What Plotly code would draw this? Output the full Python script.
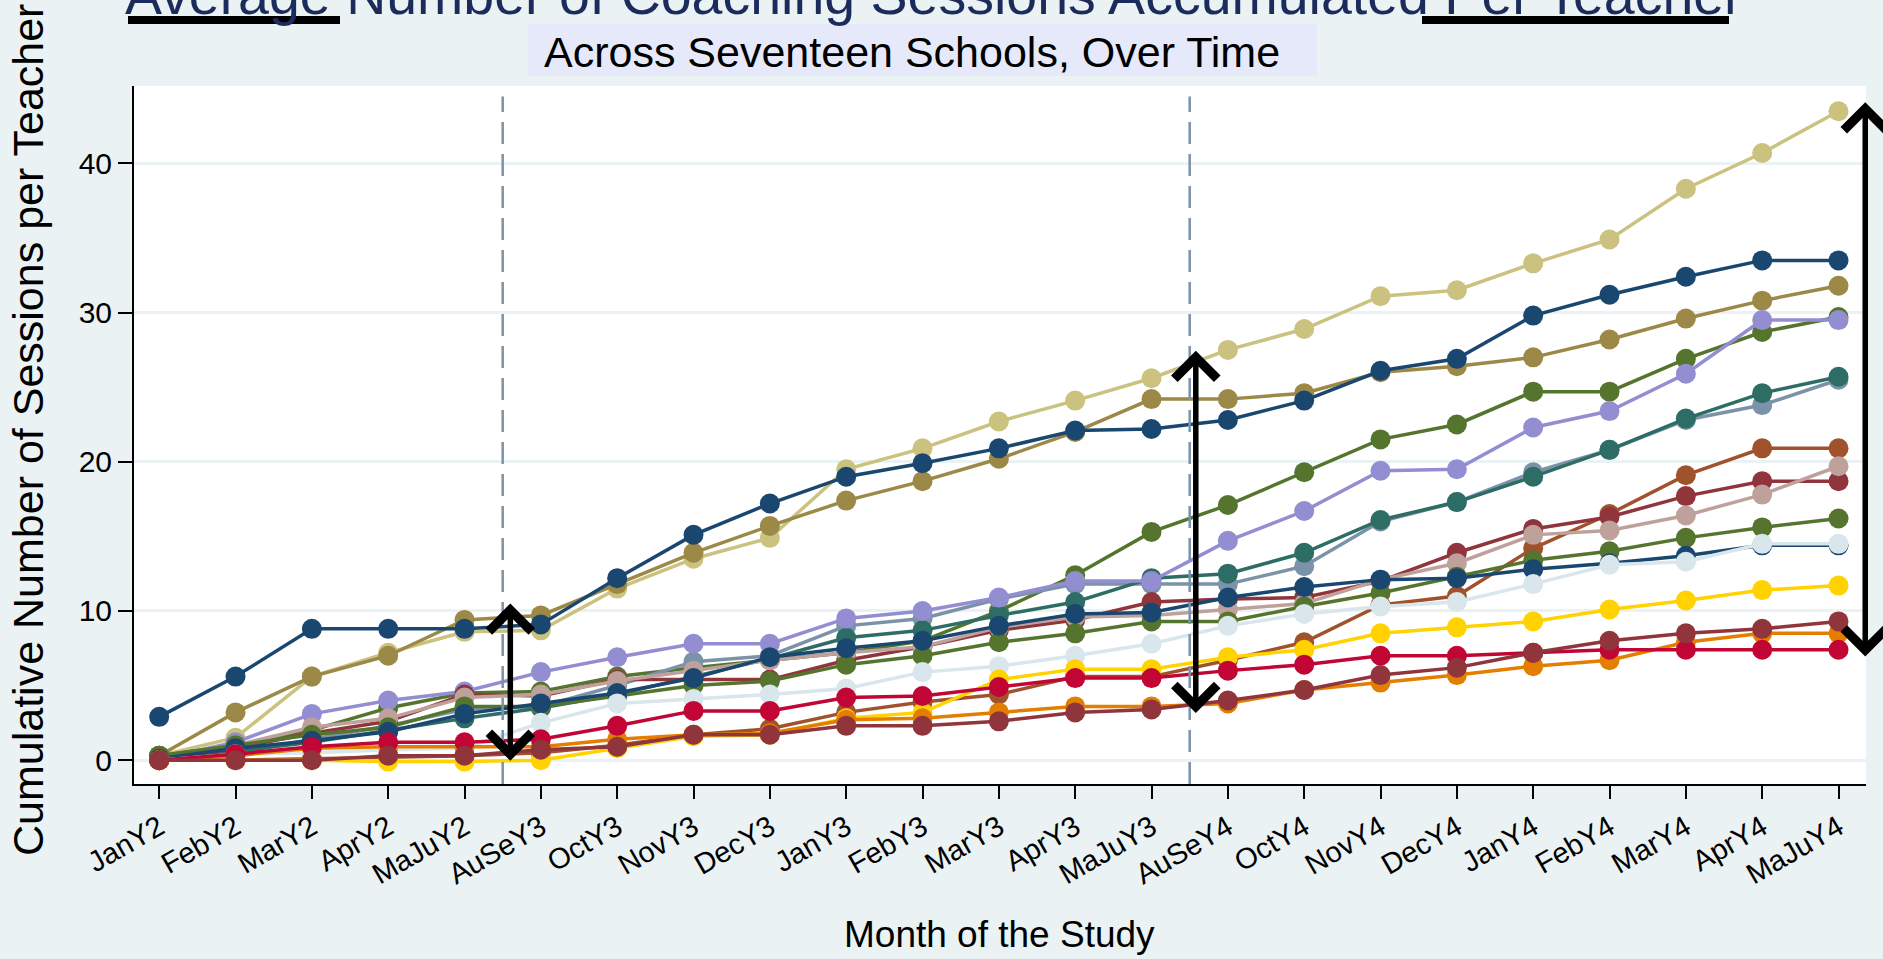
import plotly.graph_objects as go

months = ["JanY2", "FebY2", "MarY2", "AprY2", "MaJuY2", "AuSeY3", "OctY3", "NovY3",
          "DecY3", "JanY3", "FebY3", "MarY3", "AprY3", "MaJuY3", "AuSeY4", "OctY4",
          "NovY4", "DecY4", "JanY4", "FebY4", "MarY4", "AprY4", "MaJuY4"]

school_khaki = [0.3, 1.5, 5.6, 7.2, 8.6, 8.7, 11.5, 13.5, 14.9, 19.5, 20.9, 22.7, 24.1, 25.6,
                27.5, 28.9, 31.1, 31.5, 33.3, 34.9, 38.3, 40.7, 43.5]
school_brown = [0.3, 3.2, 5.6, 7.0, 9.4, 9.7, 11.8, 13.9, 15.7, 17.4, 18.7, 20.2, 22.0, 24.2,
                24.2, 24.6, 26.0, 26.4, 27.0, 28.2, 29.6, 30.8, 31.8]
school_navy_a = [2.9, 5.6, 8.8, 8.8, 8.8, 9.1, 12.2, 15.1, 17.2, 19.0, 19.9, 20.9, 22.1, 22.2,
                 22.8, 24.1, 26.1, 26.9, 29.8, 31.2, 32.4, 33.5, 33.5]
school_green_a = [0.3, 1.0, 2.0, 3.5, 4.5, 4.6, 5.6, 6.2, 6.7, 7.2, 8.0, 10.0, 12.4, 15.3,
                  17.1, 19.3, 21.5, 22.5, 24.7, 24.7, 26.9, 28.7, 29.7]
school_emidblue = [0.0, 0.5, 1.4, 2.3, 3.4, 3.6, 5.0, 6.6, 7.0, 9.0, 9.5, 10.8, 11.8, 11.8,
                   11.8, 13.0, 16.0, 17.3, 19.3, 20.8, 22.8, 23.8, 25.5]
school_emerald = [0.0, 0.6, 1.2, 2.0, 2.8, 3.5, 4.4, 5.6, 6.8, 8.2, 8.7, 9.7, 10.6, 12.2,
                  12.5, 13.9, 16.1, 17.3, 19.0, 20.8, 22.9, 24.6, 25.7]
school_lavender = [0.1, 1.2, 3.1, 4.0, 4.6, 5.9, 6.9, 7.8, 7.8, 9.5, 10.0, 10.9, 12.0, 12.0,
                   14.7, 16.7, 19.4, 19.5, 22.3, 23.4, 25.9, 29.5, 29.5]
school_sienna = [0.0, 0.0, 0.1, 0.2, 0.3, 0.5, 1.0, 1.7, 2.1, 3.2, 3.9, 4.4, 5.6, 5.6,
                 6.7, 7.9, 10.4, 11.0, 14.2, 16.5, 19.1, 20.9, 20.9]
school_maroon_a = [0.0, 0.8, 1.8, 2.6, 4.4, 4.3, 5.4, 5.4, 5.4, 6.7, 7.6, 8.7, 9.4, 10.6,
                   10.8, 10.9, 12.0, 13.9, 15.5, 16.3, 17.7, 18.7, 18.7]
school_erose = [0.1, 1.0, 2.2, 2.8, 4.2, 4.4, 5.3, 6.0, 6.7, 7.2, 7.6, 8.9, 9.6, 9.7,
                10.1, 10.5, 12.1, 13.2, 15.1, 15.4, 16.4, 17.8, 19.7]
school_green_b = [0.3, 1.0, 1.7, 2.2, 3.6, 3.6, 4.3, 5.0, 5.3, 6.4, 7.0, 7.9, 8.5, 9.3,
                  9.3, 10.3, 11.2, 12.3, 13.4, 14.0, 14.9, 15.6, 16.2]
school_navy_b = [0.1, 0.8, 1.3, 1.9, 3.1, 3.8, 4.5, 5.5, 6.9, 7.5, 8.0, 9.0, 9.8, 9.9,
                 10.9, 11.6, 12.1, 12.2, 12.8, 13.2, 13.7, 14.4, 14.4]
school_bluishgray = [0.0, 0.4, 0.5, 0.7, 0.8, 2.5, 3.8, 4.1, 4.4, 4.8, 5.9, 6.3, 7.0, 7.8,
                     9.0, 9.8, 10.3, 10.6, 11.8, 13.1, 13.3, 14.5, 14.5]
school_gold = [0.0, 0.0, 0.0, -0.1, -0.1, 0.0, 0.8, 1.6, 1.7, 2.8, 3.2, 5.4, 6.1, 6.1,
               6.9, 7.4, 8.5, 8.9, 9.3, 10.1, 10.7, 11.4, 11.7]
school_orange = [0.0, 0.3, 0.8, 0.9, 0.9, 0.9, 1.4, 1.7, 1.8, 2.7, 2.8, 3.2, 3.6, 3.6,
                 3.8, 4.7, 5.2, 5.7, 6.3, 6.7, 7.9, 8.5, 8.5]
school_cranberry = [0.0, 0.4, 0.9, 1.2, 1.2, 1.4, 2.3, 3.3, 3.3, 4.2, 4.3, 4.9, 5.5, 5.5,
                    6.0, 6.4, 7.0, 7.0, 7.2, 7.4, 7.4, 7.4, 7.4]
school_maroon_b = [0.0, 0.0, 0.0, 0.3, 0.3, 0.7, 0.9, 1.7, 1.7, 2.3, 2.3, 2.6, 3.2, 3.4,
                   4.0, 4.7, 5.7, 6.2, 7.2, 8.0, 8.5, 8.8, 9.3]

series = [
    (school_khaki, "#cac27e"),
    (school_brown, "#9c8847"),
    (school_navy_a, "#1a476f"),
    (school_green_a, "#55752f"),
    (school_emidblue, "#7b92a8"),
    (school_emerald, "#2d6d66"),
    (school_lavender, "#938dd2"),
    (school_sienna, "#a0522d"),
    (school_maroon_a, "#90353b"),
    (school_erose, "#bfa19c"),
    (school_green_b, "#55752f"),
    (school_navy_b, "#1a476f"),
    (school_bluishgray, "#d9e6eb"),
    (school_gold, "#ffd200"),
    (school_orange, "#e37e00"),
    (school_cranberry, "#c10534"),
    (school_maroon_b, "#90353b"),
]

vlines = [4.5, 13.5]
# double-headed arrows: (x, top, bottom)
arrows = [(4.6, 10.5, -0.15), (13.58, 27.45, 3.06), (22.35, 44.1, 6.84)]

FONT = "Liberation Sans, Arial, sans-serif"
BG = "#eaf2f3"

fig = go.Figure()
for vals, col in series:
    fig.add_trace(go.Scatter(
        x=months, y=vals, mode="lines+markers",
        line=dict(color=col, width=3.5),
        marker=dict(color=col, size=20, symbol="circle"),
        showlegend=False, hoverinfo="skip"))

L, R, T, B = 134, 17, 86, 175
W, H = 1883, 959
pw = W - L - R
ph = H - T - B


def px(xp):
    return (xp - L) / pw


def py(yp):
    return (H - B - yp) / ph


for xv in vlines:
    fig.add_shape(type="line", xref="x", yref="paper", x0=xv, x1=xv, y0=0, y1=0.985,
                  line=dict(color="#7b92a8", width=2.5, dash="22px,10px"), layer="above")

for xa, ytop, ybot in arrows:
    fig.add_annotation(x=xa, y=ytop, ax=xa, ay=ybot, xref="x", yref="y", axref="x", ayref="y",
                       text="", showarrow=True, arrowhead=4, startarrowhead=4,
                       arrowside="end+start", arrowwidth=5.5, arrowsize=1.5,
                       startarrowsize=1.5, arrowcolor="black")

# title (partly cut off at the top) with underline bars
fig.add_annotation(xref="paper", yref="paper", x=px(934), y=py(28), xanchor="center",
                   yanchor="bottom", showarrow=False,
                   text="Average Number of Coaching Sessions Accumulated Per Teacher",
                   font=dict(family=FONT, size=55.5, color="#1b2b5c"))
fig.add_shape(type="rect", xref="paper", yref="paper", x0=px(128), x1=px(340),
              y0=py(24), y1=py(16), fillcolor="black", line=dict(width=0))
fig.add_shape(type="rect", xref="paper", yref="paper", x0=px(1422), x1=px(1729),
              y0=py(24), y1=py(16), fillcolor="black", line=dict(width=0))
# subtitle box
fig.add_shape(type="rect", xref="paper", yref="paper", x0=px(528), x1=px(1317),
              y0=py(76), y1=py(24), fillcolor="#e5e9f9", line=dict(width=0))
fig.add_annotation(xref="paper", yref="paper", x=px(912), y=py(52), xanchor="center",
                   yanchor="middle", showarrow=False,
                   text="Across Seventeen Schools, Over Time",
                   font=dict(family=FONT, size=43, color="black"))
# axis titles
fig.add_annotation(xref="paper", yref="paper", x=px(28), y=py(430), xanchor="center",
                   yanchor="middle", showarrow=False, textangle=-90,
                   text="Cumulative Number of Sessions per Teacher",
                   font=dict(family=FONT, size=43, color="black"))
fig.add_annotation(xref="paper", yref="paper", x=px(999), y=py(934), xanchor="center",
                   yanchor="middle", showarrow=False, text="Month of the Study",
                   font=dict(family=FONT, size=37, color="black"))

fig.update_layout(
    width=W, height=H,
    margin=dict(l=L, r=R, t=T, b=B, pad=0),
    paper_bgcolor=BG, plot_bgcolor="white",
    font=dict(family=FONT, color="black"),
    showlegend=False,
)
fig.update_xaxes(type="category", categoryorder="array", categoryarray=months,
                 range=[-0.33, 22.36], tickangle=-30, tickfont=dict(size=29),
                 ticks="outside", ticklen=13, tickwidth=1.5, tickcolor="black",
                 showline=True, linecolor="black", linewidth=2, showgrid=False,
                 zeroline=False)
fig.update_yaxes(range=[-1.6, 45.19], tickvals=[0, 10, 20, 30, 40], tickfont=dict(size=30),
                 ticks="outside", ticklen=14, tickwidth=1.5, tickcolor="black",
                 showline=True, linecolor="black", linewidth=2, showgrid=True,
                 gridcolor=BG, gridwidth=3, zeroline=False)

fig.write_html("out.html", config={"displayModeBar": False},
               post_script="document.body.style.margin='0';document.body.style.overflow='hidden';")
